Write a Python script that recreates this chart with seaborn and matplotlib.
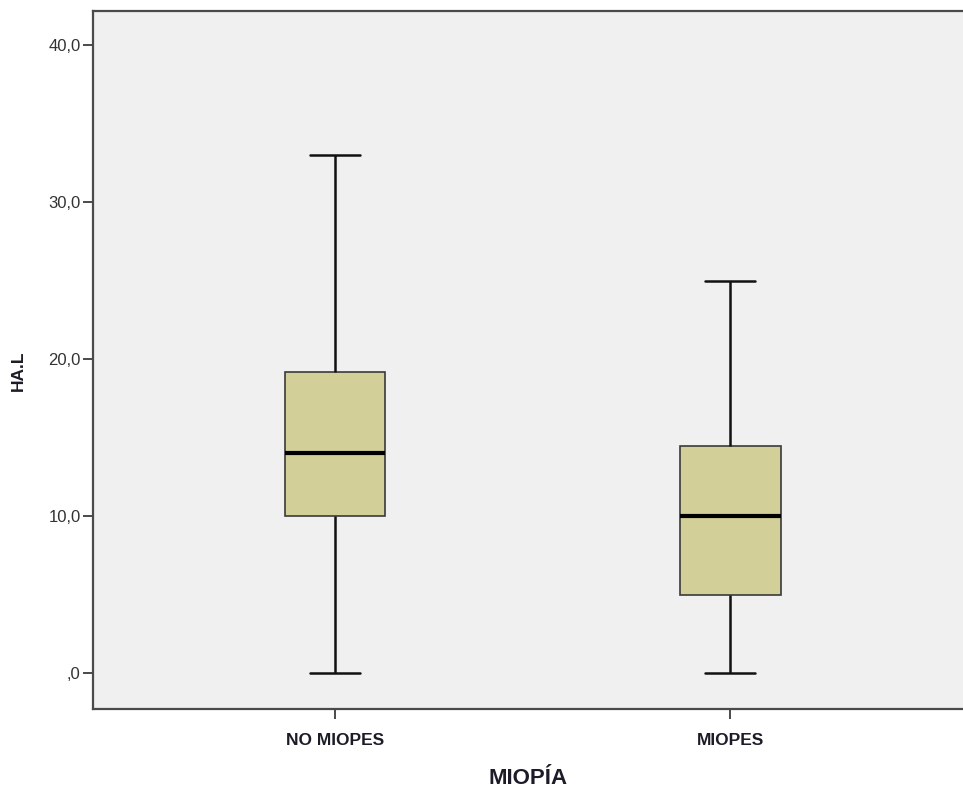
import matplotlib
matplotlib.use("Agg")
import matplotlib.pyplot as plt
import seaborn as sns
import pandas as pd

# Five-number summaries of HA.L for each myopia group
groups = ["NO MIOPES", "MIOPES"]
hal_min = [0.0, 0.0]
hal_q1 = [10.0, 5.0]
hal_median = [14.0, 10.0]
hal_q3 = [19.2, 14.45]
hal_max = [33.0, 25.0]

y_ticks = [0, 10, 20, 30, 40]
y_tick_labels = [",0", "10,0", "20,0", "30,0", "40,0"]

rows = []
for i, g in enumerate(groups):
    for v in (hal_min[i], hal_q1[i], hal_median[i], hal_q3[i], hal_max[i]):
        rows.append({"MIOPÍA": g, "HA.L": v})
df = pd.DataFrame(rows)

sns.set_theme(style="white")
plt.rcParams["font.family"] = ["Liberation Sans", "DejaVu Sans"]

fig = plt.figure(figsize=(9.63, 7.94), dpi=100)
ax = fig.add_axes([0.0966, 0.107, 0.9034, 0.879])
ax.set_facecolor("#f0f0f0")

sns.boxplot(
    data=df, x="MIOPÍA", y="HA.L", order=groups, ax=ax,
    width=0.253, whis=(0, 100), color="#d3cf98", saturation=1,
    fill=True, gap=0,
    boxprops=dict(edgecolor="#3a3a3a", linewidth=1.2),
    medianprops=dict(color="#000000", linewidth=3.0),
    whiskerprops=dict(color="#111111", linewidth=1.8),
    capprops=dict(color="#111111", linewidth=1.8),
    showfliers=False,
)

ax.set_xlim(-0.612, 1.588)
ax.set_ylim(-2.27, 42.16)
ax.set_yticks(y_ticks)
ax.set_yticklabels(y_tick_labels)

for side in ("left", "bottom", "top"):
    ax.spines[side].set_visible(True)
    ax.spines[side].set_color("#4a4a4a")
    ax.spines[side].set_linewidth(1.6)
ax.spines["right"].set_visible(False)

ax.tick_params(axis="y", which="major", left=True, length=7, width=1.4,
               color="#4a4a4a", labelsize=12, labelcolor="#333333", pad=2)
ax.tick_params(axis="x", which="major", bottom=True, length=7, width=1.4,
               color="#4a4a4a", labelsize=12.5, labelcolor="#1c1c28", pad=10)
for lbl in ax.get_xticklabels():
    lbl.set_fontweight("bold")

ax.set_xlabel("MIOPÍA", fontsize=16, fontweight="bold", color="#1c1c28", labelpad=15)
ax.set_ylabel("HA.L", fontsize=12.5, fontweight="bold", color="#1c1c28")
ax.yaxis.set_label_coords(-0.077, 0.484)

fig.savefig("out.png", dpi=100)
